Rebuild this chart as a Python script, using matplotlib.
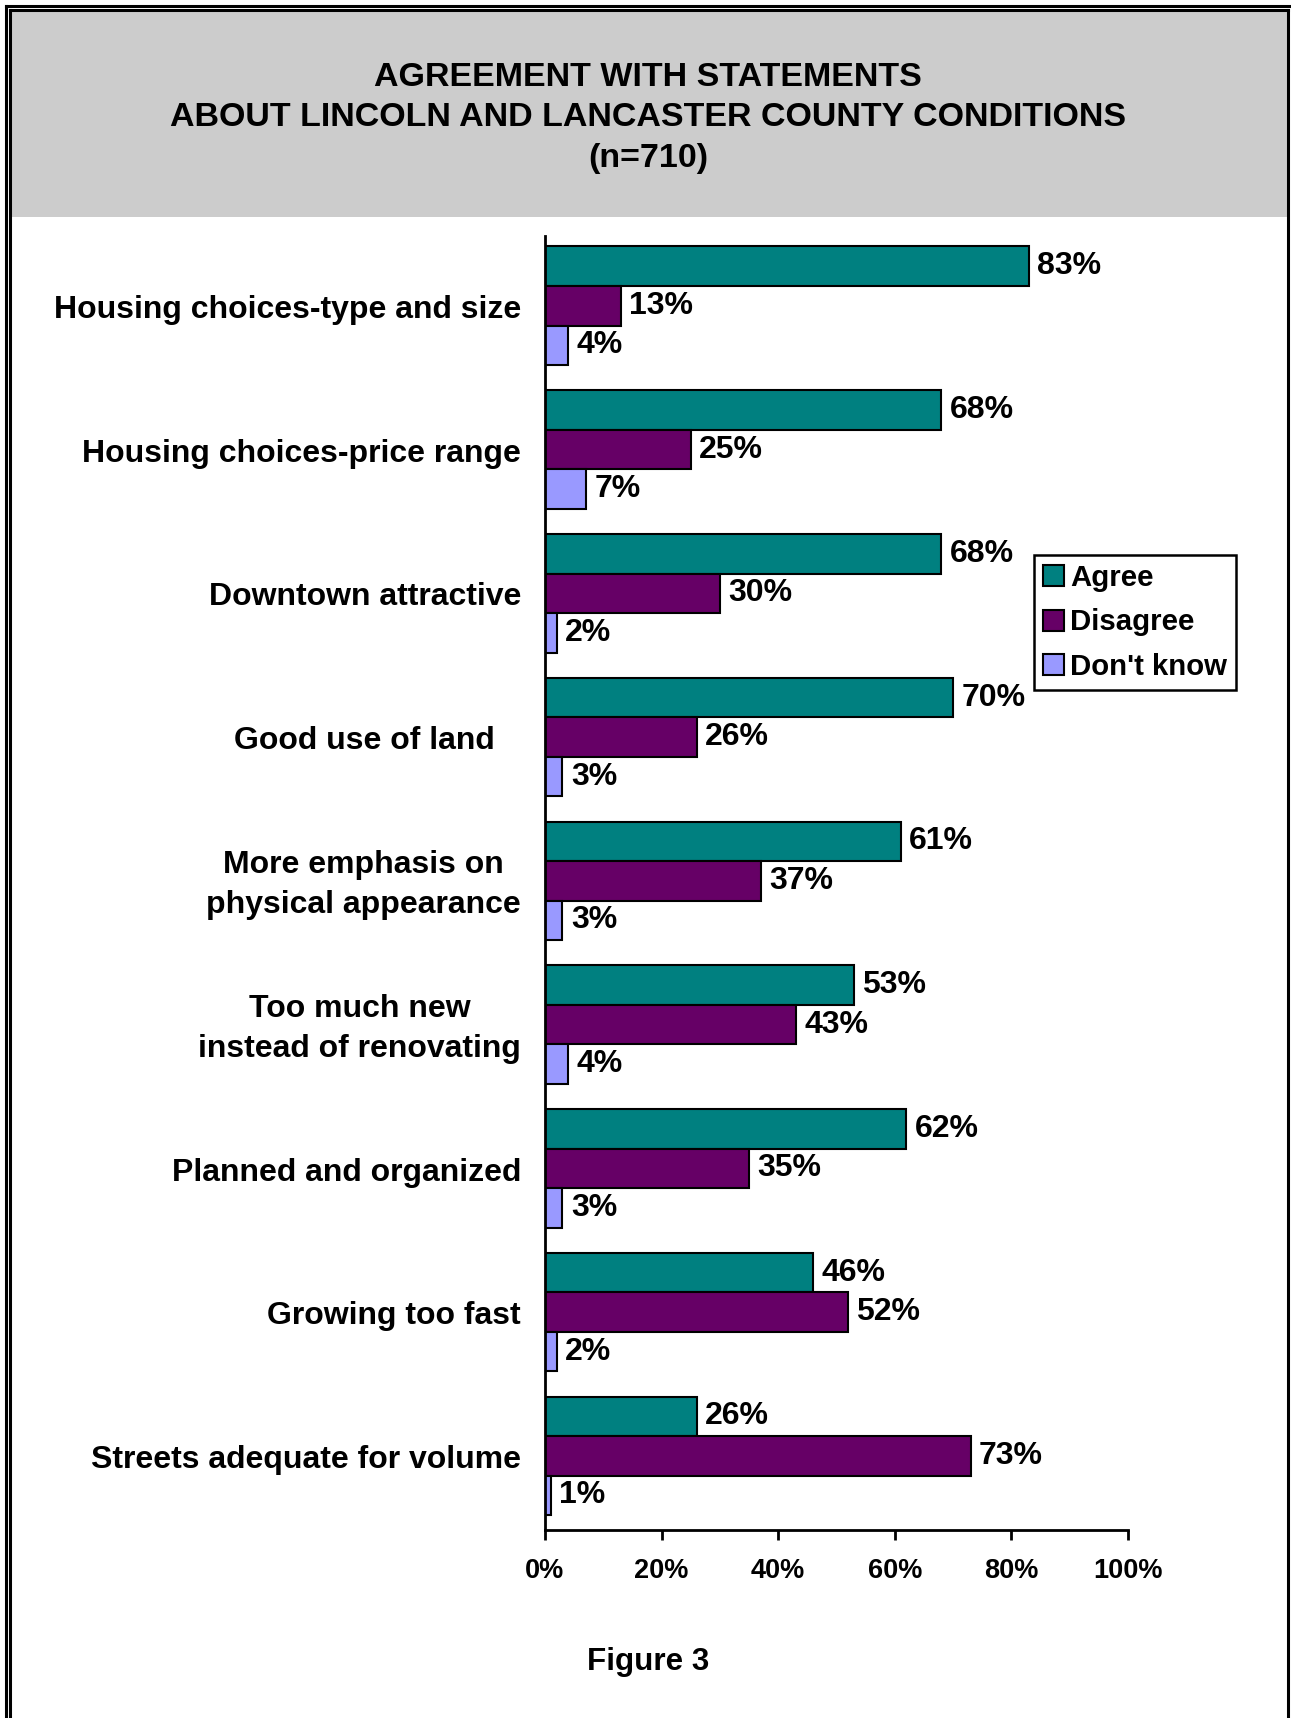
import matplotlib
matplotlib.use('Agg')
import matplotlib.pyplot as plt
from matplotlib.lines import Line2D
from matplotlib.patches import Rectangle
import numpy as np

plt.rcParams['font.family'] = ['Liberation Sans', 'DejaVu Sans']
plt.rcParams['font.weight'] = 'bold'

# data
statements = ["Housing choices-type and size", "Housing choices-price range",
              "Downtown attractive", "Good use of land",
              "More emphasis on\nphysical appearance",
              "Too much new\ninstead of renovating",
              "Planned and organized", "Growing too fast",
              "Streets adequate for volume"]
agree = [83, 68, 68, 70, 61, 53, 62, 46, 26]
disagree = [13, 25, 30, 26, 37, 43, 35, 52, 73]
dont_know = [4, 7, 2, 3, 3, 4, 3, 2, 1]
series_names = ["Agree", "Disagree", "Don't know"]
colors = ['#008080', '#660066', '#9999FF']
x_ticks = [0, 20, 40, 60, 80, 100]

W, H = 1291, 1718
fig = plt.figure(figsize=(W / 100, H / 100), dpi=100, facecolor='white')

def fx(px):
    return px / W

def fy(py):
    return 1 - py / H

# frame and grey header
fig.add_artist(Rectangle((fx(10), fy(217)), fx(1288) - fx(10), fy(10) - fy(217),
                         transform=fig.transFigure, facecolor='#cccccc',
                         edgecolor='none', zorder=0))
frame = dict(transform=fig.transFigure, color='black', lw=2.2)
fig.add_artist(Line2D([fx(6), fx(6)], [0, fy(6)], **frame))
fig.add_artist(Line2D([fx(6), 1], [fy(6), fy(6)], **frame))
fig.add_artist(Line2D([fx(10), fx(10)], [0, fy(10)], **frame))
fig.add_artist(Line2D([fx(10), fx(1288)], [fy(10), fy(10)], **frame))
fig.add_artist(Line2D([fx(1288), fx(1288)], [0, fy(10)], **frame))

# title
title_lines = ["AGREEMENT WITH STATEMENTS",
               "ABOUT LINCOLN AND LANCASTER COUNTY CONDITIONS",
               "(n=710)"]
for line, py in zip(title_lines, [77, 117, 158]):
    fig.text(fx(648), fy(py), line, ha='center', va='center',
             fontsize=24.5, fontweight='bold')

ax = fig.add_axes([fx(545), fy(1530), fx(1128) - fx(545), fy(236) - fy(1530)])

n = len(statements)
y = np.arange(n)
h = 0.275
offsets = [-h, 0, h]
for vals, off, col, name in zip([agree, disagree, dont_know], offsets, colors, series_names):
    bars = ax.barh(y + off - 0.015, vals, height=h, color=col, edgecolor='black',
                   linewidth=1.5, label=name)
    for b, v in zip(bars, vals):
        ax.annotate(f"{v}%", (b.get_width(), b.get_y() + b.get_height() / 2),
                    xytext=(6, 0), textcoords='offset points', ha='left',
                    va='center', fontsize=23, fontweight='bold')

ax.set_ylim(n - 0.5, -0.5)
ax.set_xlim(0, 100)
ax.set_xticks(x_ticks)
ax.set_xticklabels([f"{t}%" for t in x_ticks], fontsize=19.5, fontweight='bold')
ax.tick_params(axis='x', direction='out', length=7, width=2, pad=13)
ax.set_yticks([])
for s in ['top', 'right']:
    ax.spines[s].set_visible(False)
for s in ['left', 'bottom']:
    ax.spines[s].set_linewidth(2)

# category labels
for i, label in enumerate(statements):
    xoff = 26 if label == "Good use of land" else 0
    ax.annotate(label, (0, i), xytext=(-24 - xoff, -2),
                textcoords='offset pixels', ha='right', va='center',
                multialignment='center', fontsize=23, fontweight='bold',
                linespacing=1.42, annotation_clip=False)

leg = ax.legend(loc='upper left', bbox_to_anchor=(fx(1034), fy(555)),
                bbox_transform=fig.transFigure, borderaxespad=0,
                fontsize=21.2, frameon=True, fancybox=False, framealpha=1,
                edgecolor='black', handlelength=0.72, handleheight=0.72,
                handletextpad=0.2, labelspacing=0.56, borderpad=0.3)
leg.get_frame().set_linewidth(1.8)
for t in leg.get_texts():
    t.set_fontweight('bold')

fig.text(fx(648), fy(1662), "Figure 3", ha='center', va='center',
         fontsize=22.6, fontweight='bold')

fig.savefig('out.png', dpi=100, facecolor='white')
